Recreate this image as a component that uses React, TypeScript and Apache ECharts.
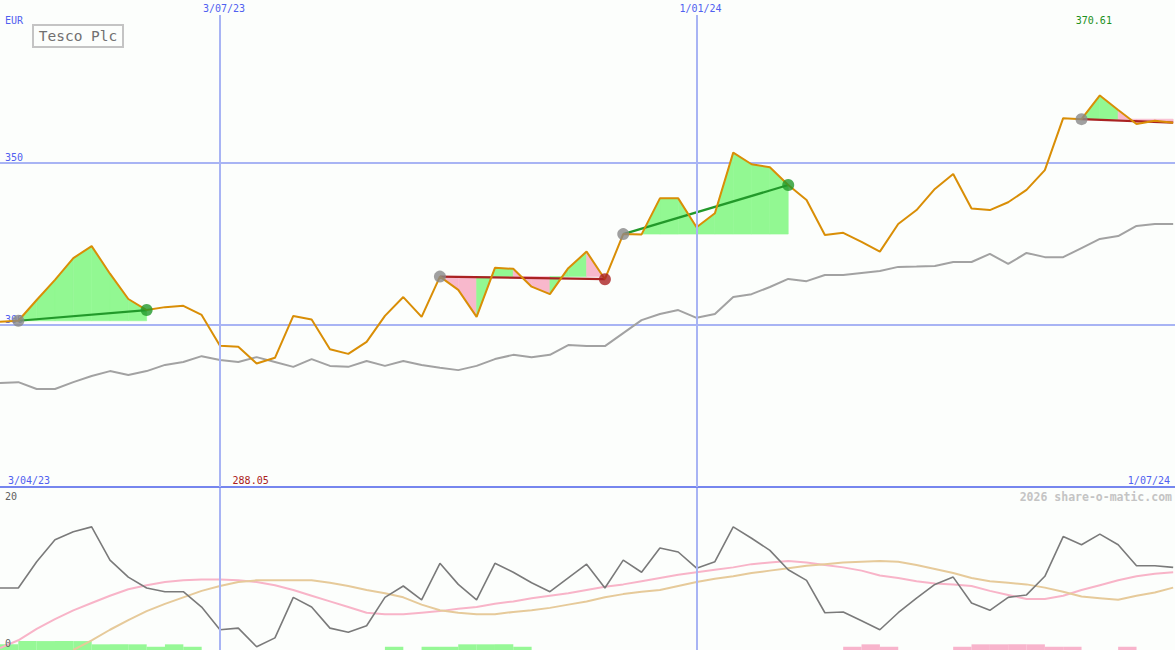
import React, { useEffect, useRef } from "react";
import * as echarts from "echarts";

// Weekly closes (index 0 = 3/04/23)
const price = [300.9, 301.2, 307.6, 313.8, 320.5, 324.2, 315.7, 307.9, 304.5, 305.4,
  305.8, 303.0, 293.5, 293.2, 288.05, 289.8, 302.7, 301.6, 292.4, 291.0,
  294.7, 302.7, 308.5, 302.4, 314.8, 310.7, 302.4, 317.5, 317.2, 311.7,
  309.4, 317.4, 322.5, 314.0, 327.9, 327.8, 338.9, 338.9, 330.0, 334.3,
  353.0, 349.4, 348.5, 343.0, 338.4, 327.6, 328.3, 325.5, 322.5, 331.0,
  335.3, 341.8, 346.4, 335.8, 335.3, 337.7, 341.5, 347.6, 363.6, 363.3,
  370.61, 366.1, 361.8, 362.8, 362.2];

const relative = [282.0, 282.3, 280.2, 280.2, 282.3, 284.2, 285.7, 284.5, 285.7, 287.6,
  288.5, 290.3, 289.1, 288.5, 290.0, 288.5, 287.0, 289.4, 287.3, 287.0,
  288.8, 287.3, 288.8, 287.6, 286.7, 286.0, 287.3, 289.4, 290.7, 290.0,
  290.7, 293.7, 293.4, 293.4, 297.4, 301.4, 303.3, 304.5, 302.1, 303.3,
  308.5, 309.4, 311.6, 314.1, 313.4, 315.3, 315.3, 315.9, 316.5, 317.8,
  317.9, 318.1, 319.3, 319.3, 321.8, 318.7, 322.1, 320.8, 320.8, 323.6,
  326.4, 327.3, 330.4, 331.0, 331.0];

const oscGray = [7.65, 7.65, 10.9, 13.6, 14.6, 15.2, 11.1, 9.0, 7.65, 7.2,
  7.2, 5.3, 2.5, 2.7, 0.4, 1.5, 6.5, 5.3, 2.7, 2.2,
  3.0, 6.5, 7.9, 6.2, 10.7, 8.1, 6.2, 10.7, 9.6, 8.3,
  7.2, 8.9, 10.6, 7.65, 11.1, 9.6, 12.6, 12.1, 10.1, 10.9,
  15.2, 13.8, 12.3, 9.9, 8.6, 4.6, 4.7, 3.6, 2.5, 4.6,
  6.4, 8.1, 9.0, 5.8, 4.9, 6.5, 6.8, 9.1, 14.0, 13.0,
  14.3, 13.0, 10.4, 10.4, 10.2];

const oscPink = [0.25, 1.2, 2.6, 3.8, 4.9, 5.8, 6.7, 7.5, 8.0, 8.4,
  8.6, 8.7, 8.7, 8.6, 8.4, 8.0, 7.4, 6.7, 6.0, 5.3,
  4.6, 4.4, 4.4, 4.6, 4.8, 5.1, 5.3, 5.7, 6.0, 6.4,
  6.7, 7.0, 7.4, 7.8, 8.1, 8.5, 8.9, 9.3, 9.6, 9.9,
  10.2, 10.6, 10.8, 11.0, 10.8, 10.5, 10.2, 9.8, 9.2, 8.9,
  8.5, 8.2, 8.1, 7.9, 7.3, 6.8, 6.3, 6.3, 6.7, 7.4,
  8.0, 8.6, 9.1, 9.4, 9.6];

const oscTan = [null, null, null, null, 0.0, 1.2, 2.5, 3.7, 4.8, 5.7,
  6.5, 7.3, 7.9, 8.4, 8.6, 8.6, 8.6, 8.6, 8.3, 7.9,
  7.4, 7.0, 6.5, 5.6, 4.9, 4.6, 4.4, 4.4, 4.7, 4.9,
  5.2, 5.6, 6.0, 6.5, 6.9, 7.2, 7.4, 7.9, 8.4, 8.8,
  9.1, 9.5, 9.8, 10.1, 10.4, 10.6, 10.8, 10.9, 11.0, 10.9,
  10.5, 10.0, 9.5, 8.9, 8.5, 8.3, 8.1, 7.7, 7.2, 6.6,
  6.4, 6.2, 6.7, 7.1, 7.7];

const histGreen = [0.7, 1.1, 1.1, 1.1, 1.1, 0.7, 0.7, 0.7, 0.4, 0.7,
  0.4, 0, 0, 0, 0, 0, 0, 0, 0, 0,
  0, 0.4, 0, 0.4, 0.4, 0.7, 0.7, 0.7, 0.4, 0,
  0, 0, 0, 0, 0, 0, 0, 0, 0, 0,
  0, 0, 0, 0, 0, 0, 0, 0, 0, 0,
  0, 0, 0, 0, 0, 0, 0, 0, 0, 0,
  0, 0, 0, 0, 0];

const histPink = [0, 0, 0, 0, 0, 0, 0, 0, 0, 0,
  0, 0, 0, 0, 0, 0, 0, 0, 0, 0,
  0, 0, 0, 0, 0, 0, 0, 0, 0, 0,
  0, 0, 0, 0, 0, 0, 0, 0, 0, 0,
  0, 0, 0, 0, 0, 0, 0.4, 0.7, 0.4, 0,
  0, 0, 0.4, 0.7, 0.7, 0.7, 0.7, 0.4, 0.4, 0,
  0, 0.4, 0, 0, 0];

const tradeEntries = [1, 24, 34, 59];
const tradeExits = [8, 33, 43, 64];
const tradeOpen = [false, false, false, true];

const dateLabels = ["3/04/23", "3/07/23", "1/01/24", "1/07/24"];
const dateIndex = [0, 12, 38, 64.1];

const yTicks = [300, 350];
const lowTicks = ["20", "0"];

const X_MAX = 64.1;
const MONO = "DejaVu Sans Mono";
const BG = "#fcfefc";
const BLUE = "#5060f0";
const GRIDC = "#a8b4f4";
const FILL_G = "#92f892";
const FILL_P = "#f8b8cc";
const WIN = "#22992a";
const LOSS = "#aa2222";

export default function App() {
  const ref = useRef<HTMLDivElement>(null);
  useEffect(() => {
    const chart = echarts.init(ref.current!, null, { renderer: "svg" });
    const pairs = (arr: (number | null)[]) => arr.map((v, i) => [i, v]);

    const fillData: number[][] = [];
    tradeEntries.forEach((e, k) => {
      const lv = price[e];
      for (let i = e; i < tradeExits[k]; i++) fillData.push([i, i + 1, price[i], price[i + 1], lv]);
    });

    const tradeSeries = tradeEntries.map((e, k) => {
      const x = tradeExits[k];
      const win = price[x] >= price[e];
      return {
        type: "line", xAxisIndex: 0, yAxisIndex: 0, z: 3, symbol: "none", silent: true,
        data: [[e, price[e]], [x, price[x]]],
        lineStyle: { color: win ? WIN : LOSS, width: 2.2 },
      };
    });

    const barData: any[] = [];
    histGreen.forEach((v, i) => { if (v > 0) barData.push({ value: [i + 0.5, v], itemStyle: { color: "#96f896" } }); });
    histPink.forEach((v, i) => { if (v > 0) barData.push({ value: [i + 0.5, v], itemStyle: { color: "#f8b4cc" } }); });

    const vlines = {
      silent: true, symbol: ["none", "none"], label: { show: false },
      lineStyle: { color: GRIDC, width: 2, type: "solid" },
      data: [{ xAxis: dateIndex[1] }, { xAxis: dateIndex[2] }],
    };

    const option: any = {
      animation: false,
      backgroundColor: BG,
      grid: [
        { left: 0, right: 0, top: 0, height: 487 },
        { left: 0, right: 0, top: 488, height: 162 },
      ],
      xAxis: [
        {
          type: "value", gridIndex: 0, min: 0, max: X_MAX,
          axisLine: { show: true, onZero: false, lineStyle: { color: "#7686ee", width: 2 } },
          axisTick: { show: false }, axisLabel: { show: false }, splitLine: { show: false },
        },
        {
          type: "value", gridIndex: 1, min: 0, max: X_MAX, show: false, splitLine: { show: false },
        },
      ],
      yAxis: [
        {
          type: "value", gridIndex: 0, min: 250, max: 400, interval: 50,
          axisLine: { show: false }, axisTick: { show: false },
          axisLabel: {
            inside: true, margin: 5, verticalAlign: "bottom", color: BLUE,
            fontFamily: MONO, fontSize: 10,
            formatter: (v: number) => (yTicks.includes(v) ? String(v) : ""),
          },
          splitLine: { show: true, showMinLine: false, showMaxLine: false, lineStyle: { color: GRIDC, width: 2 } },
        },
        {
          type: "value", gridIndex: 1, min: 0, max: 20, show: false, splitLine: { show: false },
        },
      ],
      series: [
        {
          type: "custom", xAxisIndex: 0, yAxisIndex: 0, z: 1, silent: true,
          encode: { x: [0, 1], y: [2, 3, 4] },
          data: fillData,
          renderItem: (_p: any, api: any) => {
            const x0 = api.value(0), x1 = api.value(1), y0 = api.value(2), y1 = api.value(3), lv = api.value(4);
            const a = api.coord([x0, y0]), b = api.coord([x1, y1]), c = api.coord([x1, lv]), d = api.coord([x0, lv]);
            const col = y1 >= lv ? FILL_G : FILL_P;
            return {
              type: "polygon",
              shape: { points: [a, b, c, d] },
              style: { fill: col, stroke: col, lineWidth: 0.6 },
            };
          },
        },
        {
          type: "line", xAxisIndex: 0, yAxisIndex: 0, z: 2, symbol: "none", silent: true,
          data: pairs(relative), lineStyle: { color: "#a2a2a2", width: 2 },
          markLine: vlines,
        },
        ...tradeSeries,
        {
          type: "line", xAxisIndex: 0, yAxisIndex: 0, z: 4, symbol: "none", silent: true,
          data: pairs(price), lineStyle: { color: "#d98e06", width: 2 },
        },
        {
          type: "scatter", xAxisIndex: 0, yAxisIndex: 0, z: 5, symbolSize: 12, silent: true,
          data: tradeEntries.map((e) => [e, price[e]]),
          itemStyle: { color: "#888888" },
        },
        {
          type: "scatter", xAxisIndex: 0, yAxisIndex: 0, z: 5, symbolSize: 12, silent: true,
          data: tradeExits
            .map((x, k) => ({ k, x }))
            .filter((o) => !tradeOpen[o.k])
            .map((o) => ({
              value: [o.x, price[o.x]],
              itemStyle: { color: price[o.x] >= price[tradeEntries[o.k]] ? WIN : LOSS },
            })),
        },
        {
          type: "bar", xAxisIndex: 1, yAxisIndex: 1, z: 1, silent: true,
          barWidth: 18.4, data: barData,
        },
        {
          type: "line", xAxisIndex: 1, yAxisIndex: 1, z: 2, symbol: "none", silent: true,
          data: pairs(oscPink), lineStyle: { color: "#f8b4c8", width: 2 },
        },
        {
          type: "line", xAxisIndex: 1, yAxisIndex: 1, z: 2, symbol: "none", silent: true,
          data: pairs(oscTan), lineStyle: { color: "#e6ca9a", width: 2 },
        },
        {
          type: "line", xAxisIndex: 1, yAxisIndex: 1, z: 3, symbol: "none", silent: true,
          data: pairs(oscGray), lineStyle: { color: "#7a7a7a", width: 1.6 },
          markLine: vlines,
        },
      ],
    };
    chart.setOption(option);

    const px = (i: number) => chart.convertToPixel({ xAxisIndex: 0 }, i) as unknown as number;
    const pyLow = (v: number) => chart.convertToPixel({ yAxisIndex: 1 }, v) as unknown as number;
    const bottomY = chart.convertToPixel({ yAxisIndex: 0 }, 250) as unknown as number;
    let minI = 0, maxI = 0;
    price.forEach((v, i) => { if (v < price[minI]) minI = i; if (v > price[maxI]) maxI = i; });

    const txt = (text: string, x: number, y: number, color: string, align: string, va: string, extra: any = {}) => ({
      type: "text", x, y, z: 10, silent: true,
      style: {
        text, fill: color, font: `${extra.weight || "normal"} ${extra.size || 10}px '${MONO}'`, align, verticalAlign: va,
        ...(extra.bg ? { backgroundColor: BG, padding: [3, 2, 2, 2] } : {}),
      },
    });

    const graphics: any[] = [
      txt(dateLabels[1], px(dateIndex[1]) + 4, 0, BLUE, "center", "top", { bg: true }),
      txt(dateLabels[2], px(dateIndex[2]) + 4, 0, BLUE, "center", "top", { bg: true }),
      txt(dateLabels[0], px(dateIndex[0]) + 8, bottomY - 2, BLUE, "left", "bottom"),
      txt(dateLabels[3], px(dateIndex[3]) - 5, bottomY - 2, BLUE, "right", "bottom"),
      txt(price[minI].toFixed(2), px(minI) - 6, bottomY - 2, "#aa2020", "center", "bottom"),
      txt(price[maxI].toFixed(2), px(maxI) - 6, 15, "#209020", "center", "top"),
      txt("EUR", 5, 15, BLUE, "left", "top"),
      txt(lowTicks[0], 5, pyLow(20) + 3, "#606060", "left", "top"),
      txt(lowTicks[1], 5, pyLow(0) - 2, "#606060", "left", "bottom"),
      txt("2026 share-o-matic.com", 1172, pyLow(20) + 3, "#c4c4c4", "right", "top", { weight: "bold", size: 11.5 }),
      {
        type: "rect", z: 10, silent: true,
        shape: { x: 33, y: 25, width: 90, height: 22 },
        style: { fill: BG, stroke: "#c4c4c4", lineWidth: 2 },
      },
      txt("Tesco Plc", 78, 36, "#707070", "center", "middle", { size: 14.5 }),
    ];
    chart.setOption({ graphic: graphics });

    return () => chart.dispose();
  }, []);

  return <div ref={ref} style={{ position: "absolute", left: 0, top: 0, width: 1175, height: 650 }} />;
}
